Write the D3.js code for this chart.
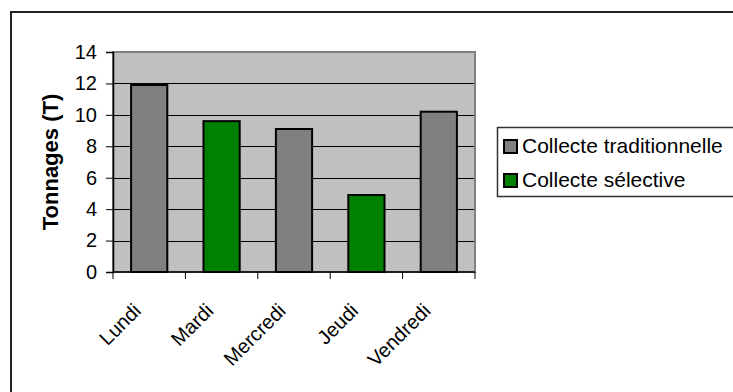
<!DOCTYPE html>
<html>
<head>
<meta charset="utf-8">
<script src="https://cdn.jsdelivr.net/npm/d3@7"></script>
<style>
  html, body { margin: 0; padding: 0; background: #fff; }
  svg { display: block; font-family: "Liberation Sans", Arial, sans-serif; }
</style>
</head>
<body>
<svg id="chart" width="733" height="392"></svg>
<script>
// ---- data ----
const days = ["Lundi", "Mardi", "Mercredi", "Jeudi", "Vendredi"];
const tonnages = [11.9, 9.6, 9.1, 4.9, 10.2];
const collecteType = ["Collecte traditionnelle", "Collecte sélective", "Collecte traditionnelle", "Collecte sélective", "Collecte traditionnelle"];
const seriesNames = ["Collecte traditionnelle", "Collecte sélective"];
const seriesColors = ["#808080", "#008000"];
const yTicks = [0, 2, 4, 6, 8, 10, 12, 14];
const yLabel = "Tonnages (T)";

// ---- layout ----
const svg = d3.select("#chart");
const plot = { left: 113, right: 475, top: 52, bottom: 272 };

// outer frame
svg.append("rect")
  .attr("x", 11).attr("y", 12).attr("width", 900).attr("height", 600)
  .attr("fill", "none").attr("stroke", "#222").attr("stroke-width", 2);

const x = d3.scaleBand().domain(days).range([plot.left, plot.right])
  .paddingInner(0.5).paddingOuter(0.25);
const y = d3.scaleLinear().domain([0, 14]).range([plot.bottom, plot.top]);
const color = d3.scaleOrdinal().domain(seriesNames).range(seriesColors);

// plot background
svg.append("rect")
  .attr("x", plot.left).attr("y", plot.top)
  .attr("width", plot.right - plot.left).attr("height", plot.bottom - plot.top)
  .attr("fill", "#C0C0C0");

// gridlines
svg.append("g").selectAll("line")
  .data(yTicks.filter(t => t > 0 && t < 14))
  .join("line")
  .attr("x1", plot.left).attr("x2", plot.right)
  .attr("y1", d => Math.round(y(d)) + 0.5).attr("y2", d => Math.round(y(d)) + 0.5)
  .attr("stroke", "#000").attr("stroke-width", 1);

// plot border (gray)
svg.append("rect")
  .attr("x", plot.left).attr("y", plot.top)
  .attr("width", plot.right - plot.left).attr("height", plot.bottom - plot.top)
  .attr("fill", "none").attr("stroke", "#808080").attr("stroke-width", 2);

// bars
svg.append("g").selectAll("rect")
  .data(days)
  .join("rect")
  .attr("x", d => x(d))
  .attr("y", (d, i) => y(tonnages[i]))
  .attr("width", x.bandwidth())
  .attr("height", (d, i) => y(0) - y(tonnages[i]))
  .attr("fill", (d, i) => color(collecteType[i]))
  .attr("stroke", "#000").attr("stroke-width", 2);

// y axis
const yAxis = svg.append("g")
  .attr("transform", `translate(${plot.left},0)`)
  .call(d3.axisLeft(y).tickValues(yTicks).tickFormat(d3.format("d")).tickSize(7).tickPadding(9));
yAxis.select(".domain").attr("stroke", "#000").attr("stroke-width", 1.5);
yAxis.selectAll(".tick line").attr("stroke", "#000");
yAxis.selectAll("text").attr("font-size", 20).attr("fill", "#000")
  .attr("font-family", "'Liberation Sans', Arial, sans-serif");

// x axis
const xEdges = d3.scaleLinear().domain([0, days.length]).range([plot.left, plot.right]);
const xAxisG = svg.append("g").attr("transform", `translate(0,${plot.bottom})`);
xAxisG.append("line")
  .attr("x1", plot.left).attr("x2", plot.right).attr("y1", 0).attr("y2", 0)
  .attr("stroke", "#000").attr("stroke-width", 1.5);
xAxisG.selectAll("line.tk")
  .data(d3.range(days.length + 1))
  .join("line").attr("class", "tk")
  .attr("x1", d => xEdges(d)).attr("x2", d => xEdges(d))
  .attr("y1", 0).attr("y2", 7)
  .attr("stroke", "#000").attr("stroke-width", 1);
xAxisG.selectAll("text")
  .data(days)
  .join("text")
  .attr("transform", d => `translate(${x(d) + x.bandwidth() / 2 - 7},40) rotate(-45)`)
  .attr("text-anchor", "end")
  .attr("font-size", 20)
  .attr("fill", "#000")
  .text(d => d);

// y label
svg.append("text")
  .attr("transform", `translate(58,${(plot.top + plot.bottom) / 2}) rotate(-90)`)
  .attr("text-anchor", "middle")
  .attr("font-size", 22)
  .attr("font-weight", "bold")
  .attr("fill", "#000")
  .text(yLabel);

// legend
const lg = svg.append("g");
lg.append("rect")
  .attr("x", 497.5).attr("y", 127.5).attr("width", 400).attr("height", 69)
  .attr("fill", "#fff").attr("stroke", "#333").attr("stroke-width", 1.5);
const items = lg.selectAll("g.item").data(seriesNames).join("g").attr("class", "item")
  .attr("transform", (d, i) => `translate(0,${i * 34})`);
items.append("rect")
  .attr("x", 504).attr("y", 140).attr("width", 13).attr("height", 13)
  .attr("fill", d => color(d)).attr("stroke", "#000").attr("stroke-width", 2);
items.append("text")
  .attr("x", 522).attr("y", 153)
  .attr("font-size", 21).attr("fill", "#000")
  .text(d => d);
</script>
</body>
</html>
